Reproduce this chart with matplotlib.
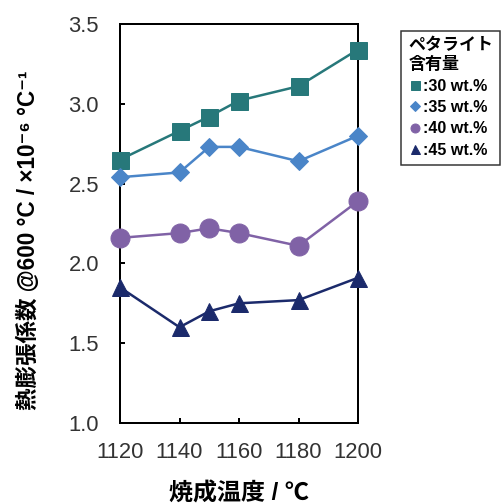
import matplotlib
matplotlib.use("Agg")
import matplotlib.pyplot as plt

plt.rcParams['font.family'] = ['Liberation Sans', 'Noto Sans CJK JP', 'DejaVu Sans']

temps = [1120, 1140, 1150, 1160, 1180, 1200]
s30 = [2.65, 2.83, 2.92, 3.02, 3.11, 3.34]
s35 = [2.54, 2.57, 2.73, 2.73, 2.64, 2.80]
s40 = [2.16, 2.19, 2.22, 2.19, 2.11, 2.39]
s45 = [1.85, 1.60, 1.70, 1.75, 1.77, 1.91]
labels = [':30 wt.%', ':35 wt.%', ':40 wt.%', ':45 wt.%']
xticks = [1120, 1140, 1160, 1180, 1200]
yticks = [1.0, 1.5, 2.0, 2.5, 3.0, 3.5]

fig = plt.figure(figsize=(7, 7), dpi=72)
ax = fig.add_axes([120/504, 1-423/504, 238/504, 399/504])

styles = [
    (s30, 's', '#27787a', 17),
    (s35, 'D', '#4a85c8', 13),
    (s40, 'o', '#8062a6', 19),
    (s45, '^', '#1b2a6b', 17),
]
handles = []
for (vals, mk, col, ms), lab in zip(styles, labels):
    ax.plot(temps, vals, color=col, lw=2.5, marker=mk, ms=ms, clip_on=False, zorder=3)
    h, = ax.plot([], [], ls='none', marker=mk, color=col, ms=9 if mk != 'D' else 7.5, label=lab)
    handles.append(h)

ax.set_xlim(1120, 1200)
ax.set_ylim(1.0, 3.5)
ax.set_xticks(xticks)
ax.set_yticks(yticks)
ax.set_yticklabels([f"{v:.1f}" for v in yticks])
ax.tick_params(direction='in', length=5, width=2, labelsize=22, labelcolor='#333333')
ax.tick_params(axis='x', pad=19)
ax.tick_params(axis='y', pad=21)
for sp in ax.spines.values():
    sp.set_linewidth(2)

ax.set_xlabel('焼成温度 / ℃', fontsize=24, fontweight='bold')
ax.xaxis.set_label_coords(0.5, (423 - 482) / 399)
ax.set_ylabel('熱膨張係数 @600 °C / ×10⁻⁶ °C⁻¹', fontsize=22.5, fontweight='bold')
ax.yaxis.set_label_coords((40 - 120) / 238, (423 - 240) / 399)

leg = fig.legend(handles=handles, loc='upper left', bbox_to_anchor=(393/504, 1-23/504),
                 title='ペタライト\n含有量', alignment='left', frameon=True, fancybox=False,
                 edgecolor='black', handlelength=0.8, handletextpad=0.15, borderpad=0.45,
                 labelspacing=0.4, prop={'size': 16, 'weight': 'bold'},
                 title_fontproperties={'size': 17, 'weight': 'bold'})
leg.get_frame().set_linewidth(1.5)

fig.savefig('out.png', dpi=72)
